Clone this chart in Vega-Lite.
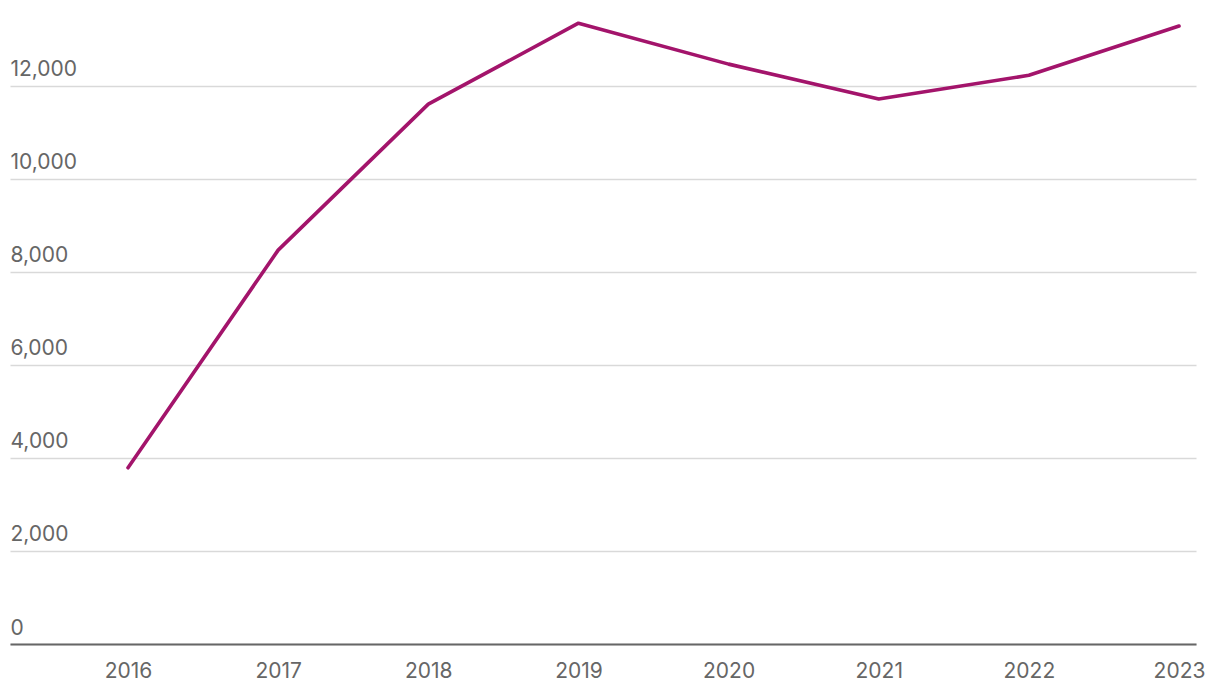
{
  "$schema": "https://vega.github.io/schema/vega-lite/v6.json",
  "width": 1186,
  "height": 642,
  "autosize": {"type": "none"},
  "padding": {"left": 10, "right": 24, "top": 2, "bottom": 46},
  "background": "white",
  "config": {
    "view": {"stroke": null},
    "font": "Inter",
    "axis": {"labelFont": "Inter", "labelColor": "#666666", "labelFontSize": 21, "labelFontWeight": "normal"}
  },
  "data": {
    "values": [
      {"year": 2016, "value": 3790},
      {"year": 2017, "value": 8470},
      {"year": 2018, "value": 11610},
      {"year": 2019, "value": 13350},
      {"year": 2020, "value": 12470},
      {"year": 2021, "value": 11720},
      {"year": 2022, "value": 12230},
      {"year": 2023, "value": 13290}
    ]
  },
  "mark": {"type": "line", "color": "#a3146b", "strokeWidth": 3.6, "strokeCap": "round", "strokeJoin": "round"},
  "encoding": {
    "x": {
      "field": "year", "type": "quantitative",
      "scale": {"domain": [2015.214, 2023.113], "nice": false, "zero": false},
      "axis": {
        "title": null, "values": [2016, 2017, 2018, 2019, 2020, 2021, 2022, 2023], "format": "d",
        "grid": false, "ticks": false, "domain": true, "domainColor": "#666666", "domainWidth": 2,
        "labelPadding": 16, "labelFlush": false
      }
    },
    "y": {
      "field": "value", "type": "quantitative",
      "scale": {"domain": [0, 13806], "nice": false},
      "axis": {
        "title": null, "values": [0, 2000, 4000, 6000, 8000, 10000, 12000], "format": ",d",
        "grid": true, "gridColor": "#d9d9d9", "gridWidth": 1.5,
        "ticks": false, "domain": false,
        "labelAlign": "left", "labelPadding": 0, "labelBaseline": "alphabetic", "labelOffset": -10
      }
    }
  }
}
